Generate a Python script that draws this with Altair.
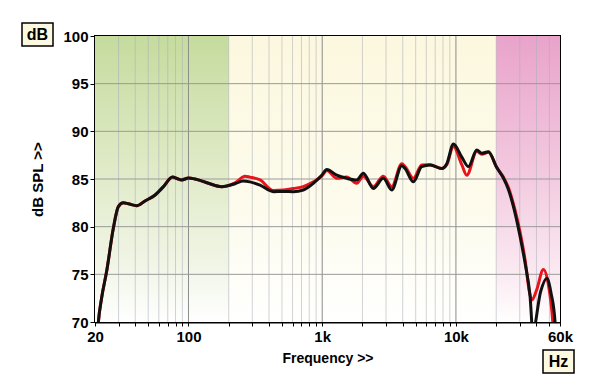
import altair as alt
import pandas as pd

# ---- data ----
black_f = [20.5, 21.2, 22.4, 24.5, 27.4, 29.9, 32.6, 35.5, 41, 47.3, 56, 65, 76, 82, 89,
           100, 112, 141, 177, 223, 257, 288, 343, 431, 512, 608, 722, 858, 992, 1082,
           1285, 1526, 1812, 2032, 2413, 2866, 3311, 3936, 4166, 4806, 5552, 6406, 7834,
           8540, 9572, 11060, 12400, 14320, 15600, 17500, 20200, 22640, 24680, 27700,
           30200, 32900, 35860, 37560, 43000, 47800, 51500, 55100, 56500]
black_db = [67, 70, 72.5, 75.4, 79.8, 82.1, 82.5, 82.4, 82.2, 82.7, 83.3, 84.2, 85.2, 85.05, 84.9,
            85.1, 85.0, 84.55, 84.2, 84.5, 84.8, 84.7, 84.35, 83.67, 83.7, 83.67, 83.85, 84.55, 85.4, 86.0,
            85.4, 85.07, 84.9, 85.6, 84.0, 85.07, 83.85, 86.4, 86.1, 84.7, 86.3, 86.47, 86.1,
            86.6, 88.67, 87.3, 86.3, 88.04, 87.7, 87.86, 86.2, 85.1, 83.9, 81.4,
            78.95, 76.15, 72.65, 69.0, 73.2, 74.6, 73.0, 70.0, 67.0]

red_f = [20.5, 21.2, 22.4, 24.5, 27.4, 29.9, 32.6, 35.5, 41, 47.3, 56, 65, 76, 82, 89,
         100, 112, 141, 177, 223, 265, 288, 343, 431, 512, 608, 722, 858, 992, 1082,
         1285, 1526, 1812, 2032, 2413, 2866, 3311, 3936, 4166, 4806, 5552, 6406, 7834,
         8540, 9572, 11060, 12060, 14320, 15600, 17500, 20200, 22640, 24680, 27700,
         30200, 32900, 35400, 37000, 40000, 45080, 49000, 53000, 54500]
red_db = [67, 70, 72.5, 75.4, 79.8, 82.1, 82.5, 82.4, 82.2, 82.7, 83.3, 84.2, 85.2, 85.05, 84.9,
          85.1, 85.0, 84.55, 84.2, 84.6, 85.3, 85.2, 84.9, 83.8, 83.85, 84.0, 84.2, 84.7, 85.3, 85.9,
          85.07, 85.2, 84.55, 85.3, 84.2, 85.3, 84.2, 86.6, 86.3, 85.07, 86.47, 86.5, 86.1,
          86.5, 88.4, 86.5, 85.4, 87.9, 87.6, 87.8, 86.2, 85.2, 84.1, 81.7,
          79.4, 76.5, 73.2, 72.3, 73.3, 75.5, 74.0, 70.0, 67.5]

band_start = [20, 20, 20000]
band_end = [60000, 200, 60000]

minor_grid = [30, 40, 50, 60, 70, 80, 90,
              200, 300, 400, 500, 600, 700, 800, 900,
              2000, 3000, 4000, 5000, 6000, 7000, 8000, 9000,
              20000, 30000, 40000, 50000]
major_grid = [100, 1000, 10000]
h_grid = [75, 80, 85, 90, 95]

x_tick_values = [20] + minor_grid[:7] + [100] + minor_grid[7:15] + [1000] + minor_grid[15:23] + [10000] + minor_grid[23:] + [60000]
x_label_values = [20, 100, 1000, 10000, 60000]
x_label_texts = ["20", "100", "1k", "10k", "60k"]
y_tick_values = [70, 75, 80, 85, 90, 95, 100]

FONT = "Liberation Sans"
W, H = 465, 286

label_expr = "".join(
    f"datum.value == {v} ? '{t}' : " for v, t in zip(x_label_values, x_label_texts)
) + "''"

xscale = alt.Scale(type="log", domain=[20, 60000], nice=False)
yscale = alt.Scale(domain=[70, 100], nice=False, zero=False)

xaxis = alt.Axis(values=x_tick_values, labelExpr=label_expr, grid=False, tickSize=4,
                 tickColor="black", domainColor="black", domainWidth=2,
                 labelFont=FONT, labelFontSize=15, labelFontWeight="bold", labelColor="black",
                 labelPadding=3, labelFlush=False, labelOverlap=False,
                 titleFont=FONT, titleFontSize=14, titleFontWeight="bold", titleColor="black",
                 titlePadding=7)
yaxis = alt.Axis(values=y_tick_values, grid=False, tickSize=5, tickColor="black",
                 domainColor="black", domainWidth=2,
                 labelFont=FONT, labelFontSize=15, labelFontWeight="bold", labelColor="black",
                 labelPadding=2, labelFlush=False,
                 titleFont=FONT, titleFontSize=15, titleFontWeight="bold", titleColor="black",
                 titlePadding=17)


def X(field):
    return alt.X(f"{field}:Q", scale=xscale, axis=xaxis, title="Frequency >>")


def Y(field):
    return alt.Y(f"{field}:Q", scale=yscale, axis=yaxis, title="dB SPL >>")


def grad(stops):
    return alt.LinearGradient(gradient="linear", x1=0, x2=0, y1=0, y2=1,
                              stops=[alt.GradientStop(offset=o, color=c) for o, c in stops])


bands = pd.DataFrame({"f": band_start, "f2": band_end, "db": [100] * 3, "db2": [70] * 3})
band_fills = [
    grad([(0, "#fcf8df"), (0.6, "#fdfbec"), (1, "#ffffff")]),
    grad([(0, "#c6db9e"), (0.45, "#dfeac6"), (0.8, "#f1f5e6"), (1, "#ffffff")]),
    grad([(0, "#e9a3ca"), (0.5, "#f3cbe0"), (0.85, "#fbecf3"), (1, "#ffffff")]),
]
band_layers = [
    alt.Chart(bands.iloc[[i]]).mark_rect(fill=band_fills[i], stroke=None).encode(
        x=X("f"), x2="f2", y=Y("db"), y2="db2")
    for i in range(3)
]

minor = alt.Chart(pd.DataFrame({"f": minor_grid})).mark_rule(
    color="#a9aeb8", strokeWidth=1, opacity=0.55).encode(x=X("f"))
major = alt.Chart(pd.DataFrame({"f": major_grid})).mark_rule(
    color="#8c8c8c", strokeWidth=1).encode(x=X("f"))
hlines = alt.Chart(pd.DataFrame({"db": h_grid})).mark_rule(
    color="#9a9a9a", strokeWidth=1).encode(y=Y("db"))

red = alt.Chart(pd.DataFrame({"f": red_f, "db": red_db})).mark_line(
    color="#e8141c", strokeWidth=3, interpolate="monotone", clip=True).encode(
    x=X("f"), y=Y("db"), order="f:Q")
black = alt.Chart(pd.DataFrame({"f": black_f, "db": black_db})).mark_line(
    color="#111111", strokeWidth=3, interpolate="monotone", clip=True).encode(
    x=X("f"), y=Y("db"), order="f:Q")

one = pd.DataFrame({"a": [0]})
db_box = alt.Chart(one).mark_rect(fill="#fcf9e0", stroke="black", strokeWidth=1.5).encode(
    x=alt.value(-73), x2=alt.value(-42), y=alt.value(-13), y2=alt.value(10))
db_txt = alt.Chart(one).mark_text(text="dB", font=FONT, fontSize=16, fontWeight="bold",
                                  color="black", baseline="middle", align="center").encode(
    x=alt.value(-57.5), y=alt.value(-1))
hz_box = alt.Chart(one).mark_rect(fill="#fcf9e0", stroke="black", strokeWidth=1.5).encode(
    x=alt.value(448), x2=alt.value(479), y=alt.value(314), y2=alt.value(337))
hz_txt = alt.Chart(one).mark_text(text="Hz", font=FONT, fontSize=16, fontWeight="bold",
                                  color="black", baseline="middle", align="center").encode(
    x=alt.value(463.5), y=alt.value(326))

chart = alt.layer(*band_layers, minor, major, hlines, red, black,
                  db_box, db_txt, hz_box, hz_txt).properties(
    width=W, height=H,
    padding={"left": 87, "top": 28, "right": 32, "bottom": 59},
    autosize=alt.AutoSizeParams(type="none"),
    background="white",
).configure_view(stroke="black", strokeWidth=2)

chart.save("out.html", embed_options={"renderer": "svg", "actions": False})
